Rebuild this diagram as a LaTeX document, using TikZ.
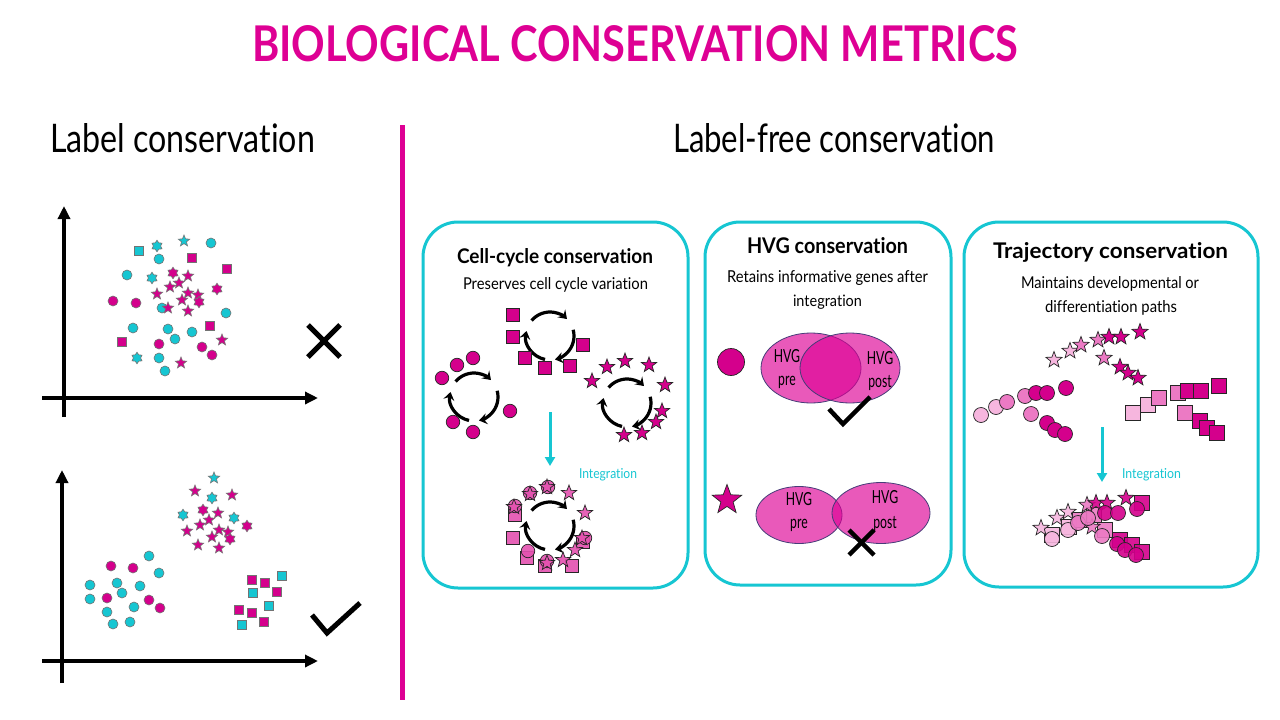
\documentclass[tikz,border=0pt]{standalone}
\usepackage{fontspec}
\setmainfont[Ligatures=NoCommon]{Lato}
\newfontfamily\lblfont[FakeStretch=0.68,Ligatures=NoCommon]{Lato}
\usetikzlibrary{shapes.geometric,arrows.meta}
\definecolor{mg}{RGB}{222,0,148}
\definecolor{mgd}{RGB}{212,0,140}
\definecolor{cyd}{RGB}{22,198,210}
\definecolor{pka}{RGB}{246,182,222}
\definecolor{pkb}{RGB}{236,122,196}
\definecolor{pkc}{RGB}{228,82,176}
\definecolor{ell}{RGB}{222,0,150}
\definecolor{elb}{RGB}{70,60,120}
\newcommand\fitt[3]{\resizebox{#1pt}{#2pt}{#3}}
\newcommand\cyc[3]{%
  \coordinate (#1) at (#2,#3);
  \draw[cycarr] (#1) ++(140:24pt) arc[start angle=140,end angle=45,radius=24pt];
  \draw[cycarr] (#1) ++(15:24pt) arc[start angle=15,end angle=-78,radius=24pt];
  \draw[cycarr] (#1) ++(258:24pt) arc[start angle=258,end angle=168,radius=24pt];}
\begin{document}
\begin{tikzpicture}[x=1pt,y=-1pt,
  txt/.style={anchor=base west,inner sep=0pt,outer sep=0pt},
  lbl/.style={anchor=base,inner sep=0pt,font={\lblfont\fontsize{18pt}{18pt}\selectfont}},
  axis/.style={line width=4pt,-{Triangle[length=13pt,width=12pt]}},
  xmk/.style={line width=5pt},
  card/.style={draw=cyd,line width=3pt,rounded corners=35pt,inner sep=0pt},
  cycarr/.style={line width=3.2pt,-{Stealth[length=8pt,width=11pt,inset=3pt]}},
  cyarr/.style={draw=cyd,line width=3pt,-{Triangle[length=9pt,width=10pt]}},
  sb/.style={draw=black!55,line width=0.6pt,inner sep=0pt},
  dc/.style={sb,circle,minimum size=10pt},
  dq/.style={sb,rectangle,minimum size=9.5pt},
  ds/.style={sb,star,star points=5,star point ratio=2.3,minimum size=12pt},
  dh/.style={sb,star,star points=6,star point ratio=1.6,minimum size=11.5pt},
  bb/.style={draw=black!85,line width=0.7pt,inner sep=0pt},
  bc/.style={bb,circle,minimum size=13.5pt},
  bq/.style={bb,rectangle,minimum size=13pt},
  bs/.style={bb,star,star points=5,star point ratio=2.4,minimum size=16pt},
  tc/.style={bb,circle,minimum size=15pt},
  tq/.style={bb,rectangle,minimum size=15pt},
  ts/.style={bb,star,star points=5,star point ratio=2.4,minimum size=17pt},
  ellp/.style={ellipse,fill=ell,fill opacity=0.65,draw=elb,line width=0.8pt,inner sep=0pt}
]
\fill[white] (0,0) rectangle (1280,720);
\useasboundingbox (0,0) rectangle (1280,720);

% Title and headings
\node[txt,text=mg] (title) at (252,61) {\fitt{766}{36}{\bfseries BIOLOGICAL CONSERVATION METRICS}};
\node[txt] (hleft) at (50,152) {\fitt{265}{29}{Label conservation}};
\node[txt] (hright) at (673,152) {\fitt{322}{29}{Label-free conservation}};

% divider
\coordinate (dv1) at (402,125);
\coordinate (dv2) at (402,700);
\draw[mg,line width=5pt] (dv1) -- (dv2);

% ---------- Plot 1 ----------
\coordinate (p1o) at (64,417); \coordinate (p1t) at (64,206);
\coordinate (p1l) at (42,398); \coordinate (p1r) at (318,398);
\draw[axis] (p1o) -- (p1t);
\draw[axis] (p1l) -- (p1r);
\foreach \t/\c/\x/\y [count=\k] in {
 dq/cyd/139/251, dh/cyd/157/246, ds/cyd/184/241, dc/cyd/211/243, dc/cyd/159/259,
 dq/mgd/192/258, dq/mgd/227/269, dc/cyd/127/275, dh/cyd/152/278, dh/mgd/173/273,
 ds/mgd/188/276, ds/mgd/170/287, ds/mgd/179/283, dh/mgd/217/289, ds/mgd/157/294,
 ds/mgd/188/293, ds/mgd/198/295, ds/mgd/182/300, dh/mgd/199/302, dc/mgd/113/301,
 dc/mgd/136/303, dc/cyd/162/308, ds/mgd/168/308, ds/mgd/188/311, dc/cyd/226/313,
 dc/cyd/133/328, dc/cyd/168/329, dc/cyd/192/332, dq/mgd/210/326, dc/cyd/175/339,
 dq/mgd/122/342, dc/mgd/159/344, dc/mgd/202/347, ds/mgd/222/340, dc/mgd/212/355,
 dh/cyd/137/358, dc/cyd/159/358, ds/mgd/181/363, dc/cyd/165/371}
 \node[\t,fill=\c] (pa\k) at (\x,\y) {};
\coordinate (xa1) at (308,325); \coordinate (xa2) at (340,357);
\coordinate (xb1) at (308,357); \coordinate (xb2) at (340,325);
\draw[xmk] (xa1) -- (xa2);
\draw[xmk] (xb1) -- (xb2);

% ---------- Plot 2 ----------
\coordinate (p2o) at (62,683); \coordinate (p2t) at (62,470);
\coordinate (p2l) at (42,661); \coordinate (p2r) at (318,661);
\draw[axis] (p2o) -- (p2t);
\draw[axis] (p2l) -- (p2r);
\foreach \t/\c/\x/\y [count=\k] in {
 ds/cyd/214/478, ds/mgd/195/491, dh/cyd/212/498, ds/mgd/232/495, dh/cyd/183/515,
 dh/mgd/203/510, ds/mgd/218/513, dh/cyd/234/518, ds/mgd/209/520, ds/mgd/200/525,
 dh/mgd/247/526, ds/mgd/187/531, ds/mgd/219/530, ds/mgd/228/532, ds/mgd/212/537,
 dh/mgd/230/539, ds/mgd/198/545, ds/mgd/219/548,
 dc/cyd/149/556, dc/mgd/111/566, dc/mgd/133/568, dc/cyd/159/573, dc/cyd/90/585,
 dc/cyd/117/583, dc/cyd/140/586, dc/cyd/122/593, dc/cyd/90/599, dc/mgd/107/598,
 dc/mgd/149/600, dc/mgd/160/608, dc/cyd/134/607, dc/cyd/107/612, dc/cyd/130/622,
 dc/cyd/113/624,
 dq/cyd/282/576, dq/mgd/252/580, dq/mgd/265/583, dq/cyd/253/593, dq/mgd/277/592,
 dq/cyd/269/606, dq/mgd/239/610, dq/mgd/252/613, dq/mgd/264/622, dq/cyd/242/625}
 \node[\t,fill=\c] (pb\k) at (\x,\y) {};
\coordinate (ck1) at (312,615); \coordinate (ck2) at (327,633); \coordinate (ck3) at (360,603);
\draw[xmk] (ck1) -- (ck2) -- (ck3);

% ---------- Cards ----------
\node[card,minimum width=265pt,minimum height=366pt] (card1) at (555.5,405) {};
\node[card,minimum width=246pt,minimum height=363pt] (card2) at (828,403.5) {};
\node[card,minimum width=294pt,minimum height=365pt] (card3) at (1111,404.5) {};

% Card 1
\node[txt] (c1t) at (457,263) {\fitt{196}{15}{\bfseries Cell-cycle conservation}};
\node[txt] (c1s) at (463,289) {\fitt{185}{12}{Preserves cell cycle variation}};
\cyc{cyA}{550}{336}
\cyc{cyB}{474}{397}
\cyc{cyC}{627}{403}
\foreach \x/\y [count=\k] in {513/315,513/337,583/345,525/358,545/368,570/366}
 \node[bq,fill=mgd] (sqA\k) at (\x,\y) {};
\foreach \x/\y [count=\k] in {457/365,473/358,442/378,510/411,453/422,473/432}
 \node[bc,fill=mgd] (ciB\k) at (\x,\y) {};
\foreach \x/\y [count=\k] in {607/367,625/361,649/365,592/381,665/385,662/411,656/422,642/433,624/435}
 \node[bs,fill=mgd] (stC\k) at (\x,\y) {};
\coordinate (ia1) at (550,412); \coordinate (ia2) at (550,466);
\draw[cyarr] (ia1) -- (ia2);
\node[txt,text=cyd] (int1) at (579,478) {\fitt{58}{10}{Integration}};
\cyc{cyD}{550}{526}
\foreach \x/\y [count=\k] in {515/515,513/538,583/542,527/558,545/566,572/566}
 \node[bq,fill=pkc,fill opacity=0.9] (mq\k) at (\x,\y) {};
\foreach \x/\y [count=\k] in {530/493,548/487,515/506,585/538,528/551,547/561}
 \node[bc,fill=pkc,fill opacity=0.9] (mc\k) at (\x,\y) {};
\foreach \x/\y [count=\k] in {530/494,547/487,569/493,585/513,514/507,582/538,575/550,547/563,563/560}
 \node[bs,fill=pkc,fill opacity=0.9] (ms\k) at (\x,\y) {};

% Card 2
\node[txt] (c2t) at (747,253) {\fitt{161}{16}{\bfseries HVG conservation}};
\node[txt] (c2s) at (727,282) {\fitt{201}{12}{Retains informative genes after}};
\node[txt] (c2s2) at (793,306) {\fitt{69}{11.5}{integration}};
\node[circle,draw=black!85,line width=0.7pt,fill=mgd,minimum size=27pt,inner sep=0pt] (hc) at (731,362) {};
\node[ellp,minimum width=100pt,minimum height=70pt] (e1) at (811,368) {};
\node[ellp,minimum width=100pt,minimum height=70pt] (e2) at (850,368) {};
\node[lbl] (l1) at (787,362) {HVG};
\node[lbl] (l2) at (787,385) {pre};
\node[lbl] (l3) at (880,364) {HVG};
\node[lbl] (l4) at (880,387) {post};
\coordinate (hk1) at (829,409); \coordinate (hk2) at (843,424); \coordinate (hk3) at (870,397);
\draw[line width=4.5pt] (hk1) -- (hk2) -- (hk3);
\node[star,star points=5,star point ratio=2.4,draw=black!85,line width=0.7pt,fill=mgd,minimum size=31pt,inner sep=0pt] (hs) at (727,500) {};
\node[ellp,minimum width=86pt,minimum height=57pt] (e3) at (799,515) {};
\node[ellp,minimum width=98pt,minimum height=61pt] (e4) at (881,513) {};
\node[lbl] (l5) at (799,505) {HVG};
\node[lbl] (l6) at (799,528) {pre};
\node[lbl] (l7) at (885,503) {HVG};
\node[lbl] (l8) at (885,528) {post};
\coordinate (hx1) at (849,530); \coordinate (hx2) at (874,555);
\coordinate (hx3) at (849,555); \coordinate (hx4) at (874,530);
\draw[line width=4.5pt] (hx1) -- (hx2);
\draw[line width=4.5pt] (hx3) -- (hx4);

% Card 3
\node[txt] (c3t) at (993,258) {\fitt{235}{16}{\bfseries Trajectory conservation}};
\node[txt] (c3s) at (1021,288) {\fitt{178}{12}{Maintains developmental or}};
\node[txt] (c3s2) at (1045,312) {\fitt{132}{12}{differentiation paths}};
\foreach \c/\x/\y [count=\k] in {pka/1133/413, pka/1148/405, pkb/1159/398, pkb/1178/393, mgd/1188/391, mgd/1201/391, mgd/1219/386, pkb/1185/413, mgd/1200/421, mgd/1207/428, mgd/1217/433}
 \node[tq,fill=\c] (tq\k) at (\x,\y) {};
\foreach \c/\x/\y [count=\k] in {pka/981/415, pka/996/407, pkb/1007/402, pkb/1025/396, mgd/1036/393, mgd/1047/393, mgd/1066/388, pkb/1031/414, mgd/1047/423, mgd/1055/430, mgd/1065/434}
 \node[tc,fill=\c] (tc\k) at (\x,\y) {};
\foreach \c/\x/\y [count=\k] in {pka/1054/360, pka/1070/351, pkb/1081/345, pkb/1098/340, mgd/1109/337, mgd/1121/337, mgd/1140/332, pkb/1104/358, mgd/1120/367, mgd/1128/373, mgd/1138/378}
 \node[ts,fill=\c] (ts\k) at (\x,\y) {};
\coordinate (ib1) at (1102,427); \coordinate (ib2) at (1102,482);
\draw[cyarr] (ib1) -- (ib2);
\node[txt,text=cyd] (int2) at (1122,478) {\fitt{59}{10}{Integration}};
\foreach \c/\x/\y [count=\k] in {pka/1052/535, pka/1069/527, pkb/1080/520, pkb/1094/515, mgd/1142/503, pkb/1105/530, mgd/1120/540, mgd/1132/545, mgd/1142/552}
 \node[tq,fill=\c,fill opacity=0.9] (uq\k) at (\x,\y) {};
\foreach \c/\x/\y [count=\k] in {pka/1041/528, pka/1057/518, pka/1068/512, pkb/1087/505, mgd/1096/503, mgd/1107/503, mgd/1126/498, pkb/1092/527}
 \node[ts,fill=\c,fill opacity=0.9] (us\k) at (\x,\y) {};
\foreach \c/\x/\y [count=\k] in {pka/1052/539, pka/1068/530, pkb/1078/523, pkb/1088/518, mgd/1105/513, mgd/1118/513, mgd/1137/509, pkb/1102/536, mgd/1117/544, mgd/1125/550, mgd/1136/555}
 \node[tc,fill=\c,fill opacity=0.9] (uc\k) at (\x,\y) {};
\end{tikzpicture}
\end{document}
